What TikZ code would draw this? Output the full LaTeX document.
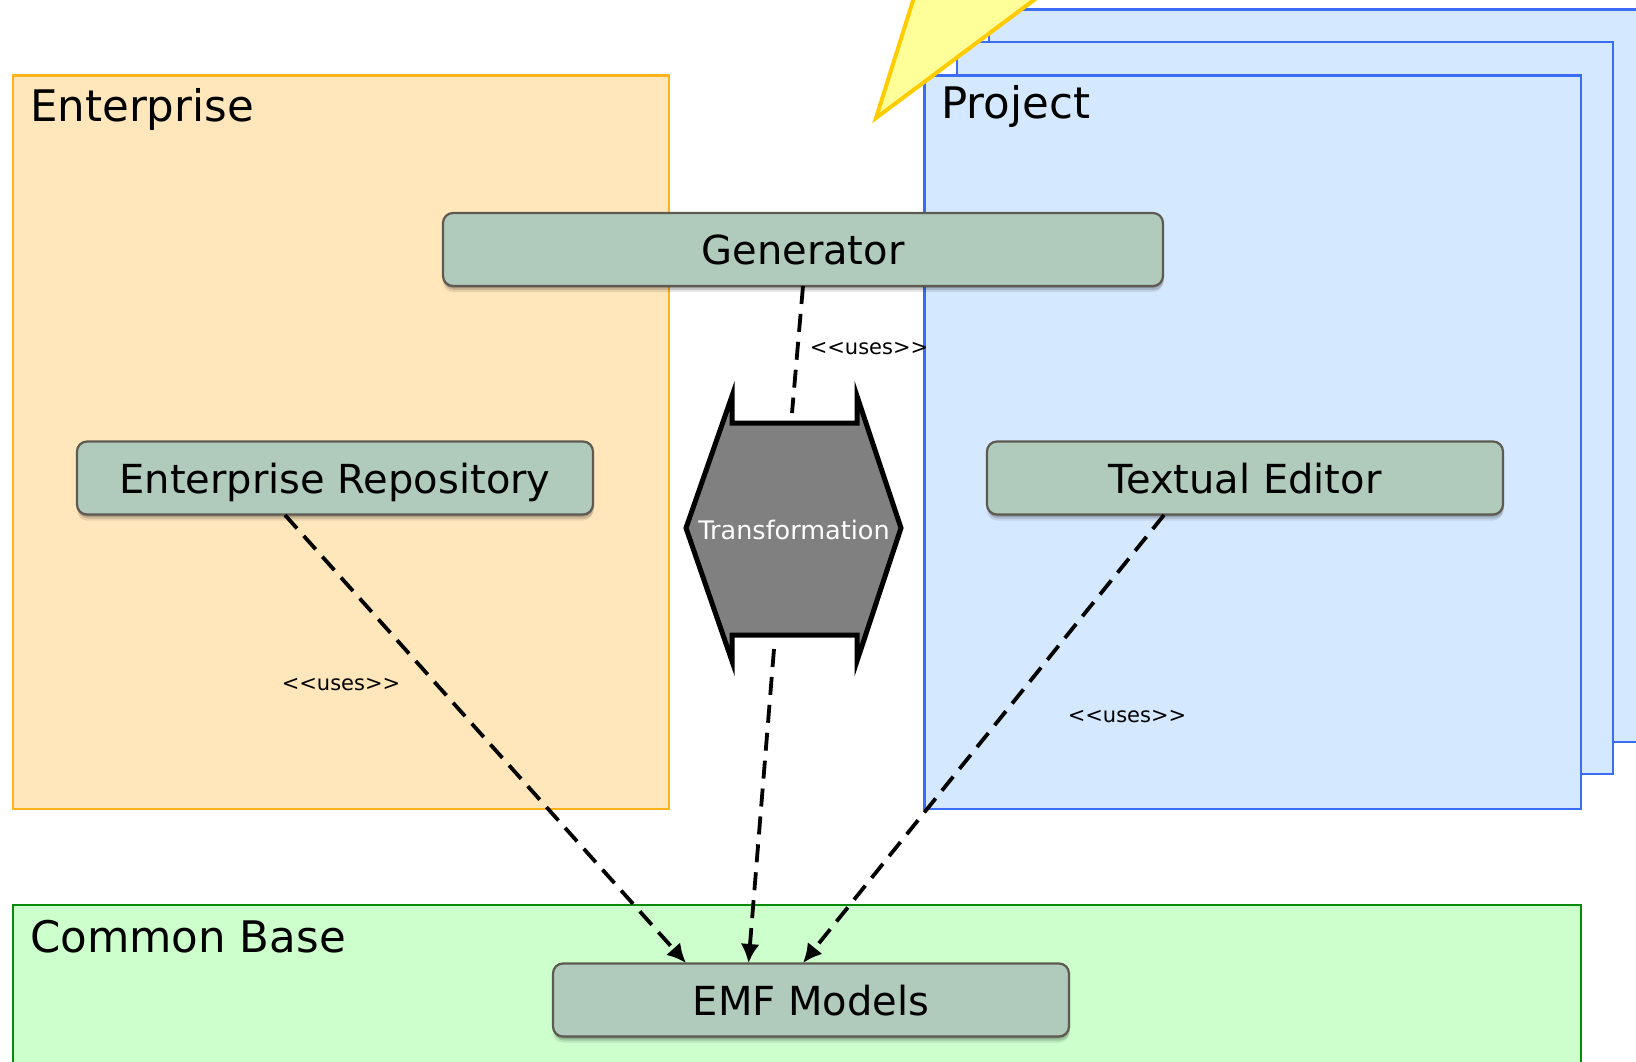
\documentclass[tikz,border=0pt]{standalone}
\usepackage{fontspec}
\setmainfont[Ligatures=NoCommon]{DejaVu Sans}
\usetikzlibrary{arrows.meta}
\definecolor{entfill}{HTML}{FFE6BB}
\definecolor{entline}{HTML}{FFB31A}
\definecolor{prjfill}{HTML}{D4E8FF}
\definecolor{prjline}{HTML}{3B6CF5}
\definecolor{comfill}{HTML}{CCFFCC}
\definecolor{comline}{HTML}{0A8A0A}
\definecolor{cmpfill}{HTML}{B0CBBC}
\definecolor{cmpline}{HTML}{5E5A52}
\definecolor{notefill}{HTML}{FFFF99}
\definecolor{noteline}{HTML}{FFCC00}
\tikzset{
  layerbox/.style={line width=2.6pt},
  layerlabel/.style={anchor=base west,font=\fontsize{43.5}{43.5}\selectfont,inner sep=0pt,text=black},
  component/.style={draw=cmpline,fill=cmpfill,line width=2.2pt,rounded corners=10pt,
    minimum width=516pt,minimum height=73pt,inner sep=0pt,text height=30pt,text depth=0pt,
    font=\fontsize{40}{40}\selectfont,
    preaction={draw=none,fill=black,opacity=.09,transform canvas={yshift=-6pt}},
    preaction={draw=none,fill=black,opacity=.13,transform canvas={yshift=-4pt,xshift=1pt}},
    preaction={draw=none,fill=black,opacity=.18,transform canvas={yshift=-2pt}}},
  uses/.style={dashed,dash pattern=on 18pt off 10pt,line width=3.8pt,black},
  usesarrow/.style={uses,-{Latex[length=19pt,width=19pt]}},
  stereotype/.style={font=\fontsize{21}{21}\selectfont,inner sep=0pt,text=black}
}
\begin{document}
\begin{tikzpicture}[x=1pt,y=-1pt]
\clip (0,0) rectangle (1636,1062);
\useasboundingbox (0,0) rectangle (1636,1062);
\fill[white] (0,0) rectangle (1636,1062);
% stacked project layers
\draw[layerbox,draw=prjline,fill=prjfill] (989,9.5) rectangle (1660,742);
\draw[layerbox,draw=prjline,fill=prjfill] (957,42) rectangle (1613,774);
\draw[layerbox,draw=prjline,fill=prjfill] (924.5,75.5) rectangle (1581,809);
% note
\draw[line width=4pt,draw=noteline,fill=notefill,miter limit=10] (876,118) -- (917,-12) -- (1050,-12) -- cycle;
% layers
\draw[layerbox,draw=entline,fill=entfill] (13,75.5) rectangle (669,809);
\draw[layerbox,draw=comline,fill=comfill] (13,905) rectangle (1581,1080);
\node[layerlabel] (entlabel) at (30,122) {Enterprise};
\node[layerlabel] (prjlabel) at (941,119) {Project};
\node[layerlabel] (comlabel) at (30,952) {Common Base};
% components
\node[component,minimum width=720pt] (generator) at (803,249.5) {Generator};
\node[component] (repo) at (335,478) {Enterprise Repository};
\node[component] (editor) at (1245,478) {Textual Editor};
\node[component] (emf) at (811,1000) {EMF Models};
% transformation
\draw[line width=5pt,draw=black,fill=gray,miter limit=10]
  (732,396) -- (732,423) -- (857,423) -- (857,396) -- (901,528) -- (857,661) -- (857,635) -- (732,635) -- (732,661) -- (686,528) -- cycle;
\node[font=\fontsize{25.5}{25.5}\selectfont,text=white,inner sep=0pt] (transformation) at (794,529.5) {Transformation};
% connectors
\coordinate (genout) at (803,286);
\coordinate (trin) at (792,413);
\coordinate (trout) at (774,649);
\coordinate (repoout) at (285,515);
\coordinate (editorout) at (1164,515);
\coordinate (emfa) at (686,963);
\coordinate (emfb) at (748.5,963);
\coordinate (emfc) at (803,963);
\draw[uses] (genout) -- (trin);
\draw[usesarrow] (trout) -- (emfb);
\draw[usesarrow] (repoout) -- (emfa);
\draw[usesarrow] (editorout) -- (emfc);
\node[stereotype] (u1) at (869,348.5) {<\kern0pt<uses>\kern0pt>};
\node[stereotype] (u2) at (341,684.5) {<\kern0pt<uses>\kern0pt>};
\node[stereotype] (u3) at (1127,716.5) {<\kern0pt<uses>\kern0pt>};
\end{tikzpicture}
\end{document}
